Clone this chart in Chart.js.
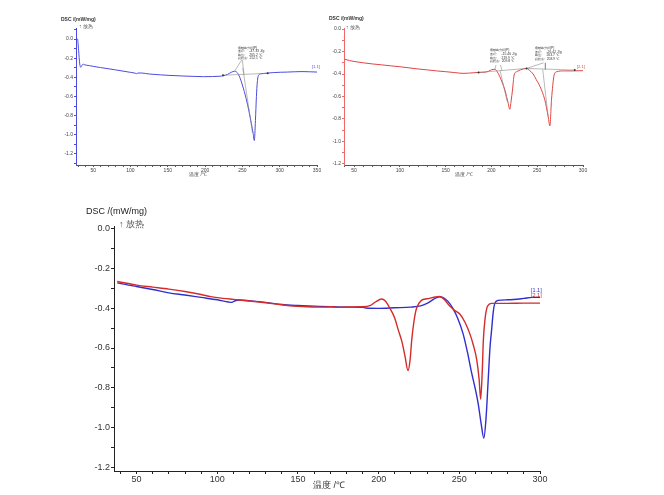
<!DOCTYPE html>
<html>
<head>
<meta charset="utf-8">
<script src="https://cdn.jsdelivr.net/npm/chart.js@4.4.0/dist/chart.umd.min.js"></script>
<style>
  body { margin: 0; background: #fff; width: 664px; height: 495px; position: relative; overflow: hidden; }
  canvas { position: absolute; }
</style>
</head>
<body>
<canvas id="c1" width="330" height="185" style="left:0;top:0"></canvas>
<canvas id="c2" width="346" height="185" style="left:318px;top:0"></canvas>
<canvas id="c3" width="664" height="300" style="left:0;top:195px"></canvas>
<script>
// bottom chart, sample [1.1] (blue)
var blueT = [38, 45, 50, 60, 70, 80, 90, 100, 107, 109, 111, 114, 120, 130, 140, 150, 160, 170, 180, 190, 192, 200, 210, 220, 226, 230, 234, 237.5, 240, 243, 246, 249, 252.4, 255, 257.5, 260, 261.7, 263.5, 265.2, 266.5, 267.9, 269, 270, 271, 272, 274, 280, 290, 295, 300];
var blueV = [-0.272, -0.283, -0.29, -0.305, -0.322, -0.333, -0.345, -0.357, -0.368, -0.37, -0.362, -0.358, -0.362, -0.37, -0.381, -0.386, -0.389, -0.392, -0.394, -0.395, -0.398, -0.4, -0.397, -0.394, -0.388, -0.375, -0.355, -0.342, -0.346, -0.365, -0.4, -0.45, -0.53, -0.62, -0.72, -0.81, -0.88, -0.98, -1.054, -0.96, -0.76, -0.6, -0.51, -0.42, -0.375, -0.36, -0.357, -0.35, -0.345, -0.345];

// bottom chart, sample [2.1] (red)
var redT = [38, 45, 50, 60, 70, 80, 90, 96, 100, 110, 120, 130, 140, 147, 155, 165, 170, 175, 180, 190, 195, 198, 201.9, 204, 207, 210, 212.2, 214.5, 216.3, 218.2, 219.5, 220.5, 222, 223.5, 226.5, 230, 235, 237.5, 240, 244.2, 247, 250.4, 253.5, 256.6, 258.5, 260.8, 262.3, 263.2, 264.2, 264.9, 266, 267, 268.5, 270, 280, 290, 300];
var redV = [-0.265, -0.275, -0.283, -0.293, -0.303, -0.315, -0.33, -0.341, -0.346, -0.355, -0.363, -0.372, -0.382, -0.389, -0.392, -0.394, -0.392, -0.395, -0.393, -0.392, -0.385, -0.368, -0.353, -0.362, -0.4, -0.45, -0.51, -0.57, -0.64, -0.714, -0.66, -0.56, -0.46, -0.4, -0.36, -0.352, -0.343, -0.34, -0.35, -0.39, -0.41, -0.43, -0.47, -0.53, -0.58, -0.66, -0.76, -0.858, -0.72, -0.56, -0.45, -0.4, -0.38, -0.375, -0.375, -0.374, -0.374];

// top left chart (blue)
var topBlueT = [27.5, 29, 30.5, 32, 33.5, 35, 36.5, 38, 45, 50, 60, 70, 80, 90, 100, 106, 108.3, 110, 115, 125, 140, 153, 170, 185, 197.8, 210, 220, 225, 230, 235, 239.5, 243, 246.5, 250, 255, 259, 262, 264.5, 266, 267.5, 268.8, 270, 271.8, 276, 285, 292, 310, 330, 350];
var topBlueV = [0.0, 0.0, -0.12, -0.26, -0.295, -0.275, -0.262, -0.268, -0.278, -0.285, -0.298, -0.31, -0.322, -0.335, -0.348, -0.356, -0.362, -0.355, -0.355, -0.365, -0.374, -0.38, -0.386, -0.39, -0.393, -0.392, -0.388, -0.383, -0.37, -0.348, -0.336, -0.35, -0.4, -0.48, -0.62, -0.76, -0.88, -0.99, -1.06, -0.85, -0.6, -0.45, -0.375, -0.362, -0.355, -0.35, -0.345, -0.34, -0.345];

// top right chart (red)
var topRedT = [40, 45, 50, 60, 70, 80, 90, 100, 110, 120, 130, 140, 150, 160, 169, 175, 180, 187, 193, 197, 200, 203.8, 206, 209.2, 212, 214.7, 218.3, 220.1, 221.5, 223, 224.8, 227.4, 232, 238.3, 242, 245.6, 249, 253, 258.3, 262, 263.8, 265.6, 267, 268.2, 271, 280, 290, 300];
var topRedV = [-0.268, -0.28, -0.288, -0.3, -0.31, -0.318, -0.327, -0.335, -0.345, -0.355, -0.363, -0.372, -0.379, -0.387, -0.394, -0.392, -0.389, -0.385, -0.383, -0.375, -0.362, -0.358, -0.375, -0.424, -0.48, -0.542, -0.66, -0.714, -0.64, -0.542, -0.409, -0.38, -0.362, -0.35, -0.37, -0.4, -0.45, -0.51, -0.63, -0.78, -0.862, -0.63, -0.5, -0.42, -0.38, -0.372, -0.372, -0.37];

// gray analysis lines (baselines, tangents, leaders)
var tlBase = [[224, -0.378], [284, -0.358]];
var tlLeaders = [[[249, -0.22], [239.5, -0.336]], [[250, -0.22], [252.1, -0.371]], [[250.5, -0.3], [263.5, -0.98]]];
var trBase = [[186, -0.386], [238.3, -0.35], [291, -0.365]];
var trLeaders = [[[205, -0.32], [203.8, -0.358]], [[210, -0.32], [211.5, -0.372]], [[209.5, -0.37], [217, -0.64]], [[257, -0.3], [238.3, -0.35]], [[258.9, -0.3], [258.9, -0.36]], [[256, -0.36], [262, -0.78]]];

var xLabels = [50, 100, 150, 200, 250, 300, 350];
var yLabels = [0.0, -0.2, -0.4, -0.6, -0.8, -1.0, -1.2];

var note1 = ['熔融峰分析(P)', '面积:     -47.33 J/g', '峰值:     265.2 ℃', '起始点:  252.1 ℃'];
var note2 = ['熔融峰分析(P)', '面积:     -15.46 J/g', '峰值:     219.9 ℃', '起始点:  209.8 ℃'];
var note3 = ['熔融峰分析(P)', '面积:     -26.42 J/g', '峰值:     263.7 ℃', '起始点:  258.9 ℃'];

var FONT = "'Liberation Sans', Arial, sans-serif";

function pts(T, V) {
    return T.map(function(t, i) { return {x: t, y: V[i]}; });
}
function seg(p) {
    return p.map(function(q) { return {x: q[0], y: q[1]}; });
}
// tick values on a fixed step inside [min, max]
function steps(min, max, per) {
    var out = [];
    for (var k = Math.ceil(min * per - 1e-9); k <= Math.floor(max * per + 1e-9); k++) {
        out.push({value: k / per});
    }
    return out;
}

function curve(data, color, width) {
    return {data: data, borderColor: color, borderWidth: width, pointRadius: 0, showLine: true,
            fill: false, cubicInterpolationMode: 'monotone'};
}
function gray(data, marks) {
    return {data: data, borderColor: '#8a8a8a', borderWidth: 0.6, showLine: true, fill: false,
            pointRadius: marks ? 1 : 0, pointBackgroundColor: '#333', pointBorderWidth: 0};
}

// text drawn on the canvas: pixel position or data position
function texts(items) {
    return {
        id: 'texts',
        afterDraw: function(chart) {
            var ctx = chart.ctx, sx = chart.scales.x, sy = chart.scales.y;
            items.forEach(function(it) {
                ctx.save();
                ctx.font = it.font;
                ctx.fillStyle = it.color;
                ctx.textAlign = it.align || 'left';
                ctx.textBaseline = 'middle';
                var x = it.px, y = it.py;
                if (it.t !== undefined) { x = sx.getPixelForValue(it.t); y = sy.getPixelForValue(it.v); }
                it.lines.forEach(function(ln, i) { ctx.fillText(ln, x, y + i * (it.lh || 0)); });
                ctx.restore();
            });
        }
    };
}

function scales(o) {
    return {
        x: {
            type: 'linear', min: o.xmin, max: o.xmax,
            afterFit: function(s) { s.height = o.xh; },
            afterBuildTicks: function(s) { s.ticks = steps(o.xmin, o.xmax, 0.1); },
            ticks: {
                autoSkip: false, maxRotation: 0, padding: o.xpad,
                font: {family: FONT, size: o.fs}, color: o.tc,
                callback: function(v) { var r = Math.round(v); return xLabels.indexOf(r) >= 0 && Math.abs(v - r) < 1e-6 ? String(r) : ''; }
            },
            grid: {drawOnChartArea: false, tickLength: o.tl, tickColor: o.xc, tickWidth: 1},
            border: {color: o.xc, width: 1}
        },
        y: {
            type: 'linear', min: o.ymin, max: o.ymax,
            afterFit: function(s) { s.width = o.yw; },
            afterBuildTicks: function(s) { s.ticks = steps(o.ymin, o.ymax, 10); },
            ticks: {
                autoSkip: false, padding: o.ypad,
                font: {family: FONT, size: o.fs}, color: o.tc,
                callback: function(v) {
                    var hit = yLabels.some(function(l) { return Math.abs(l - v) < 1e-6; });
                    return hit ? v.toFixed(1) : '';
                }
            },
            grid: {drawOnChartArea: false, tickLength: o.tl, tickColor: o.yc, tickWidth: 1},
            border: {color: o.yc, width: 1}
        }
    };
}

function makeChart(id, datasets, pad, sc, items) {
    return new Chart(document.getElementById(id), {
        type: 'scatter',
        data: {datasets: datasets},
        options: {
            responsive: false, animation: false, devicePixelRatio: 1, events: [],
            layout: {padding: pad},
            plugins: {legend: {display: false}, tooltip: {enabled: false}},
            scales: sc
        },
        plugins: [texts(items)]
    });
}

// top left
var ds1 = [gray(seg(tlBase), true)];
tlLeaders.forEach(function(l) { ds1.push(gray(seg(l), false)); });
ds1.push(curve(pts(topBlueT, topBlueV), '#4b4be0', 1));
makeChart('c1', ds1, {left: 0, top: 28, right: 13, bottom: 0},
    scales({xmin: 27, xmax: 350, ymin: -1.315, ymax: 0.115, xh: 20, yw: 76, fs: 5, tc: '#444',
            xc: '#555', yc: '#4b4be0', tl: 2, xpad: 1, ypad: 1}),
    [
        {px: 61, py: 20, lines: ['DSC /(mW/mg)'], font: 'bold 5px ' + FONT, color: '#333'},
        {px: 79, py: 27, lines: ['↑ 放热'], font: '5px ' + FONT, color: '#555'},
        {px: 198, py: 175, lines: ['温度 /℃'], font: '5px ' + FONT, color: '#444', align: 'center'},
        {px: 312, py: 67, lines: ['[1.1]'], font: '4px ' + FONT, color: '#4b4be0'},
        {t: 243.7, v: -0.09, lines: note1, font: '3.4px ' + FONT, color: '#333', lh: 3.6}
    ]);

// top right
var ds2 = [gray(seg(trBase), true)];
trLeaders.forEach(function(l) { ds2.push(gray(seg(l), false)); });
ds2.push(curve(pts(topRedT, topRedV), '#e04444', 1));
makeChart('c2', ds2, {left: 0, top: 28, right: 81, bottom: 0},
    scales({xmin: 39, xmax: 300, ymin: -1.21, ymax: 0.01, xh: 20, yw: 26, fs: 5, tc: '#444',
            xc: '#555', yc: '#f06868', tl: 2, xpad: 1, ypad: 1}),
    [
        {px: 11, py: 19, lines: ['DSC /(mW/mg)'], font: 'bold 5px ' + FONT, color: '#333'},
        {px: 28, py: 28, lines: ['↑ 放热'], font: '5px ' + FONT, color: '#555'},
        {px: 146, py: 175, lines: ['温度 /℃'], font: '5px ' + FONT, color: '#444', align: 'center'},
        {px: 259, py: 67, lines: ['[2.1]'], font: '4px ' + FONT, color: '#e04444'},
        {t: 198.3, v: -0.19, lines: note2, font: '3.4px ' + FONT, color: '#333', lh: 3.6},
        {t: 247.4, v: -0.17, lines: note3, font: '3.4px ' + FONT, color: '#333', lh: 3.6}
    ]);

// bottom overlay
makeChart('c3', [curve(pts(redT, redV), '#d42b2b', 1.4), curve(pts(blueT, blueV), '#2f2fcf', 1.4)],
    {left: 0, top: 31, right: 124, bottom: 0},
    scales({xmin: 36, xmax: 300, ymin: -1.22, ymax: 0.015, xh: 24, yw: 114, fs: 9, tc: '#333',
            xc: '#222', yc: '#222', tl: 3, xpad: 0, ypad: 1}),
    [
        {px: 86, py: 17, lines: ['DSC /(mW/mg)'], font: '9px ' + FONT, color: '#222'},
        {px: 119, py: 30, lines: ['↑ 放热'], font: '9px ' + FONT, color: '#555'},
        {px: 329, py: 291, lines: ['温度 /℃'], font: '9px ' + FONT, color: '#333', align: 'center'},
        {px: 531, py: 95, lines: ['[1.1]'], font: '5.5px ' + FONT, color: '#2f2fcf'},
        {px: 531, py: 100, lines: ['[2.1]'], font: '5.5px ' + FONT, color: '#d42b2b'}
    ]);
</script>
</body>
</html>
